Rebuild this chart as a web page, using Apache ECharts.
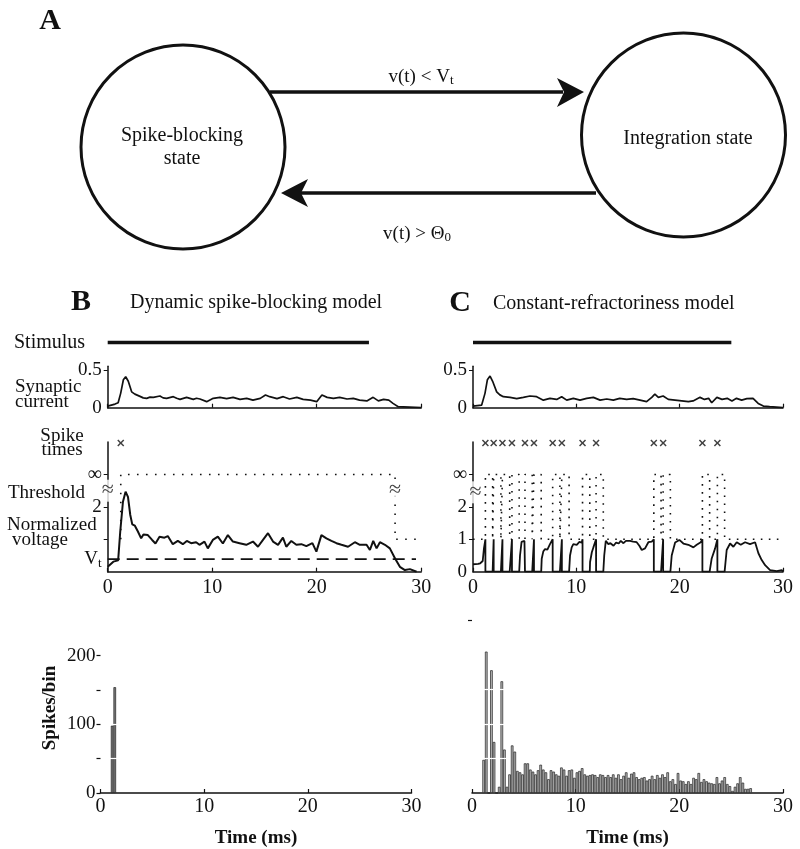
<!DOCTYPE html>
<html><head><meta charset="utf-8">
<script src="https://cdn.jsdelivr.net/npm/echarts@6/dist/echarts.min.js"></script>
<style>html,body{margin:0;padding:0;background:#fff}#c{width:800px;height:849px}</style>
</head><body><div id="c"></div>
<script>
const FONT = '"Liberation Serif","Times New Roman",serif';

// ---------------- DATA ----------------
const timeTicks = [0, 10, 20, 30];
const stimulus = [[0, 0], [25, 0]];
const synB = [[0,0.02],[0.7,0.048],[1.0,0.065],[1.24,0.19],[1.5,0.37],[1.72,0.41],[1.97,0.35],[2.29,0.21],[2.6,0.18],[3.09,0.15],[3.4,0.13],[3.73,0.124],[4.05,0.14],[4.37,0.137],[5.0,0.155],[5.3,0.13],[5.64,0.124],[6.28,0.146],[6.6,0.125],[6.92,0.11],[7.55,0.137],[8.19,0.11],[8.5,0.125],[8.83,0.115],[9.47,0.08],[10.1,0.124],[10.74,0.137],[11.38,0.12],[12.0,0.137],[12.66,0.11],[13.3,0.124],[13.9,0.1],[14.6,0.124],[15.1,0.168],[15.5,0.146],[16.2,0.12],[16.8,0.146],[17.4,0.115],[18.1,0.137],[18.7,0.11],[19.4,0.1],[20.0,0.08],[20.5,0.168],[21.0,0.137],[21.6,0.124],[22.2,0.137],[22.9,0.115],[23.5,0.124],[24.1,0.1],[24.8,0.09],[25.4,0.137],[25.9,0.09],[26.4,0.11],[26.9,0.1],[27.3,0.057],[27.8,0.013],[28.3,0.01],[30,0.0]];
const synC = [[0,0.022],[0.84,0.035],[1.16,0.19],[1.39,0.37],[1.65,0.42],[1.9,0.35],[2.29,0.21],[2.6,0.17],[2.94,0.146],[3.58,0.137],[4.23,0.12],[4.87,0.137],[5.52,0.155],[6.16,0.146],[6.81,0.1],[7.45,0.124],[8.1,0.11],[8.58,0.146],[9.07,0.1],[9.71,0.124],[10.36,0.1],[11.0,0.124],[11.65,0.137],[12.3,0.1],[12.94,0.115],[13.58,0.1],[14.2,0.124],[14.87,0.11],[15.5,0.12],[16.16,0.1],[16.8,0.08],[17.3,0.137],[17.6,0.18],[17.94,0.137],[18.4,0.155],[18.9,0.11],[19.55,0.1],[20.2,0.09],[20.84,0.08],[21.3,0.09],[21.97,0.137],[22.4,0.11],[22.8,0.124],[23.1,0.066],[23.6,0.137],[24.1,0.11],[24.6,0.124],[25.06,0.09],[25.5,0.124],[26.0,0.1],[26.5,0.12],[27.1,0.124],[27.6,0.057],[28.1,0.022],[28.7,0.013],[30,0.0]];
const voltB = [[0,0.15],[0.54,0.31],[1.0,0.35],[1.2,1.24],[1.46,2.16],[1.71,2.47],[1.94,2.31],[2.16,1.75],[2.35,1.46],[2.6,1.42],[2.89,1.24],[3.2,1.03],[3.42,1.15],[3.84,1.13],[4.25,0.98],[4.57,0.87],[4.96,1.08],[5.43,1.05],[5.75,1.1],[6.23,0.85],[6.71,0.95],[7.19,0.85],[7.57,0.95],[7.98,0.88],[8.46,0.91],[8.78,0.83],[9.26,0.93],[9.58,0.72],[10.06,0.98],[10.54,1.08],[11.02,0.87],[11.5,1.13],[11.98,0.93],[12.62,0.88],[13.26,0.83],[13.9,0.93],[14.38,0.77],[14.86,0.98],[15.34,1.19],[15.82,0.93],[16.3,0.83],[16.77,1.05],[17.09,0.77],[17.57,0.95],[18.05,0.83],[18.53,0.85],[19.01,0.79],[19.59,0.88],[19.97,0.62],[20.45,1.13],[20.93,1.03],[21.41,0.95],[21.89,0.88],[22.37,0.83],[23.0,0.77],[23.65,0.91],[24.13,0.83],[24.77,0.83],[25.09,0.67],[25.41,0.95],[25.73,0.72],[26.05,0.91],[26.53,0.83],[27.0,0.72],[27.5,0.41],[27.96,0.15],[28.44,0.05],[28.92,0.08],[29.56,0.0]];
const voltC = [[0,0.23],[0.5,0.24],[0.7,0.26],[0.94,0.33],[1.06,0.72],[1.2,1.0],[1.2,0],[1.9,0],[2.0,1.0],[2.0,0],[2.7,0],[2.85,1.0],[2.85,0],[3.55,0],[3.77,1.0],[3.77,0],[4.47,0],[4.55,0.5],[4.7,0.92],[4.87,0.97],[4.98,0.95],[5.03,1.0],[5.03,0],[5.73,0],[5.9,1.0],[5.9,0],[6.6,0],[6.65,0.4],[6.8,0.62],[6.97,0.7],[7.2,0.68],[7.45,0.85],[7.71,1.0],[7.71,0],[8.41,0],[8.6,1.0],[8.6,0],[9.3,0],[9.39,0.5],[9.55,0.75],[9.71,0.85],[10.04,0.83],[10.3,0.92],[10.52,0.9],[10.6,1.0],[10.6,0],[11.3,0],[11.33,0.3],[11.5,0.6],[11.65,0.75],[11.91,1.0],[11.91,0],[12.61,0],[12.7,0.5],[12.85,0.95],[13.1,0.85],[13.3,0.88],[13.6,0.8],[13.85,0.9],[14.1,0.87],[14.3,0.95],[14.56,0.88],[14.8,0.95],[15.2,0.95],[15.5,0.93],[15.84,0.91],[16.1,0.8],[16.33,0.67],[16.65,0.72],[16.97,0.91],[17.3,0.93],[17.5,1.0],[17.5,0],[18.2,0],[18.4,1.0],[18.4,0],[19.1,0],[19.23,0.5],[19.56,0.9],[19.97,0.98],[20.36,0.87],[20.84,0.83],[21.33,0.75],[21.65,0.83],[22.04,0.91],[22.2,1.0],[22.2,0],[22.9,0],[23.1,0.41],[23.43,0.72],[23.65,1.0],[23.65,0],[24.35,0],[24.55,0.67],[24.88,0.87],[25.2,0.77],[25.52,0.91],[25.91,0.83],[26.33,0.91],[26.81,0.85],[27.3,0.91],[27.62,0.57],[27.94,0.36],[28.27,0.2],[28.75,0.05],[29.4,0.02],[29.88,0.05],[30,0]];
const spikesB = [1.25];
const spikesC = [1.2, 2.0, 2.85, 3.77, 5.03, 5.9, 7.71, 8.6, 10.6, 11.91, 17.5, 18.4, 22.2, 23.65];
const threshB = [[1.25,1],[1.25,3],[27.5,3],[27.5,1],[29.6,1]];
const refractoryC = 0.7;
const vThreshold = 0.39;
const spikeRow = 3.97;
const infLevel = 3;
const breakLevelB = [[0,2.5],[27.5,2.5]];
const breakLevelC = [[0.25,2.45]];
const binWidth = 0.25;
const histBStart = 1.0;
const histBCounts = [98, 154];
const histCStart = 1.0;
const histCCounts = [48,205,0,178,74,0,9,162,63,9,27,69,60,32,30,27,43,43,34,31,27,33,41,34,30,20,33,31,27,25,37,34,25,33,34,22,30,32,36,27,25,26,27,26,23,27,26,23,26,23,27,22,27,20,25,30,22,28,30,23,20,22,23,18,20,25,20,26,22,27,23,30,17,20,13,29,18,17,13,17,13,22,20,29,16,20,17,15,14,13,23,14,18,23,13,10,3,9,14,23,15,6,6,7];
const synTickLabels = [0, 0.5];
const histBTicks = [0, 50, 100, 150, 200];
const histBLabels = [0, 100, 200];

// ---------------- BUILD ----------------
const threshC = [[0,1]];
spikesC.forEach(s => { threshC.push([s,1],[s,infLevel],[s+refractoryC,infLevel],[s+refractoryC,1]); });
threshC.push([30,1]);
const toBars = (start, counts) => counts.map((c,i) => [start + binWidth*(i+0.5), c]);

const grids = [
  {left:107.7, top:337.5, width:313.5, height:10},   //0 stim B
  {left:107.7, top:366.2, width:313.5, height:41.5}, //1 syn B
  {left:107.7, top:442.1, width:313.5, height:129.6},//2 volt B
  {left:100.5, top:648.7, width:311, height:147},    //3 hist B
  {left:473, top:337.5, width:310, height:10},       //4 stim C
  {left:473, top:366.2, width:310, height:41.5},     //5 syn C
  {left:473, top:442.1, width:310, height:129.6},    //6 volt C
  {left:472, top:613.7, width:311, height:182}       //7 hist C
];
const axLine = {show:true, lineStyle:{color:'#111', width:1.5}};
function xAx(i, labels, name) {
  return {gridIndex:i, type:'value', min:timeTicks[0], max:timeTicks[timeTicks.length-1], interval:10,
    show: true, splitLine:{show:false},
    axisLine: (i===0||i===4)?{show:false}:axLine,
    axisTick:{show:!(i===0||i===4), inside:true, length:4, lineStyle:{color:'#111', width:1.2}},
    axisLabel:{show:!!labels, fontFamily:FONT, fontSize:20, color:'#111', margin:labels==='h'?4:6},
    name: name||'', nameLocation:'middle', nameGap:36,
    nameTextStyle:{fontFamily:FONT, fontSize:19, fontWeight:'bold', color:'#111'}};
}
const xAxes = [xAx(0,false), xAx(1,false), xAx(2,true), xAx(3,'h','Time (ms)'),
               xAx(4,false), xAx(5,false), xAx(6,true), xAx(7,'h','Time (ms)')];

const yStim = i => ({gridIndex:i, type:'value', min:-1, max:1, show:false});
const ySyn = i => ({gridIndex:i, type:'value', min:0, max:0.55, splitLine:{show:false}, axisLine:axLine,
  axisTick:{show:true, customValues:[0.5], length:4, lineStyle:{color:'#111'}},
  axisLabel:{customValues:synTickLabels, formatter:v=>String(v), fontFamily:FONT, fontSize:19, color:'#111', margin:6}});
const yVolt = (i, labelVals) => ({gridIndex:i, type:'value', min:0, max:4, splitLine:{show:false}, axisLine:axLine,
  axisTick:{show:true, customValues:[1,2,3], length:4, lineStyle:{color:'#111'}},
  axisLabel:{customValues:labelVals, fontFamily:FONT, fontSize:19, color:'#111', margin:6,
    formatter:v => v===infLevel ? '{i|∞}' : (Math.abs(v-vThreshold)<1e-6 ? '{v|V}{s|t}' : String(v)),
    rich:{i:{fontSize:20, fontFamily:FONT}, v:{fontSize:19, fontFamily:FONT}, s:{fontSize:13, fontFamily:FONT, padding:[9,0,0,0]}}}});
const yAxes = [
  yStim(0), ySyn(1), yVolt(2,[0,vThreshold,2,infLevel]),
  {gridIndex:3, type:'value', min:0, max:210, splitLine:{show:false}, axisLine:{show:false},
   axisTick:{show:true, customValues:histBTicks, length:4, lineStyle:{color:'#111', width:1.2}},
   axisLabel:{customValues:histBLabels, fontFamily:FONT, fontSize:19, color:'#111', margin:5}},
  yStim(4), ySyn(5), yVolt(6,[0,1,2,infLevel]),
  {gridIndex:7, type:'value', min:0, max:260, splitLine:{show:false}, axisLine:{show:false},
   axisTick:{show:true, customValues:[250], length:4, lineStyle:{color:'#111', width:1.2}},
   axisLabel:{show:false}}
];

const XPATH = 'path://M0,1.5L1.5,0L5,3.5L8.5,0L10,1.5L6.5,5L10,8.5L8.5,10L5,6.5L1.5,10L0,8.5L3.5,5Z';
function line(i, data, w, type) {
  return {type:'line', xAxisIndex:i, yAxisIndex:i, data, symbol:'none', silent:true, animation:false,
    lineStyle:{color:'#111', width:w, type:type||'solid'}};
}
function breaks(i, data) {
  return {type:'scatter', xAxisIndex:i, yAxisIndex:i, data, symbolSize:1, silent:true, clip:false,
    itemStyle:{color:'rgba(0,0,0,0)'}, z:5,
    label:{show:true, position:'inside', formatter:'≈', fontFamily:FONT, fontSize:22, color:'#111',
      backgroundColor:'#fff', padding:[0,0]}};
}
function bars(i, data, fill, widthPx, whiteLines) {
  return {type:'bar', xAxisIndex:i, yAxisIndex:i, data, barWidth:widthPx, silent:true, animation:false,
    itemStyle:{color:fill, borderColor:'#222', borderWidth:0.7},
    markLine:{silent:true, symbol:'none', label:{show:false}, lineStyle:{color:'#fff', width:1.2, type:'solid'},
      data: whiteLines.map(v => [{coord:[0.5, v]}, {coord:[3.4, v]}])}};
}
const series = [
  line(0, stimulus, 3.6), line(4, stimulus, 3.6),
  line(1, synB, 1.7), line(5, synC, 1.7),
  line(2, threshB, 1.6, [1.6, 7.4]),
  line(2, [[0,vThreshold],[29.5,vThreshold]], 1.8, [12, 7]),
  line(2, voltB, 2),
  line(6, threshC, 1.6, [1.6, 6.4]),
  line(6, voltC, 1.8),
  {type:'scatter', xAxisIndex:2, yAxisIndex:2, data:spikesB.map(t=>[t,spikeRow]), symbol:XPATH, symbolSize:7, itemStyle:{color:'#111'}, silent:true},
  {type:'scatter', xAxisIndex:6, yAxisIndex:6, data:spikesC.map(t=>[t,spikeRow]), symbol:XPATH, symbolSize:7, itemStyle:{color:'#111'}, silent:true},
  breaks(2, breakLevelB), breaks(6, breakLevelC),
  bars(3, toBars(histBStart, histBCounts), '#7a7a7a', 311*binWidth/30, [50,100]),
  bars(7, toBars(histCStart, histCCounts), '#b4b4b4', 311*binWidth/30, [50,100,150])
];

const T = (text, x, y, opt) => ({type:'text', x, y, style:Object.assign({text, fontFamily:FONT, fontSize:20, fill:'#111', align:'left', verticalAlign:'middle'}, opt||{})});
const graphic = [
  // Panel A
  T('A', 50, 21, {fontSize:30, fontWeight:'bold', align:'center'}),
  {type:'circle', shape:{cx:183, cy:147, r:102}, style:{fill:'none', stroke:'#111', lineWidth:3}},
  {type:'circle', shape:{cx:683.5, cy:135, r:102}, style:{fill:'none', stroke:'#111', lineWidth:3}},
  {type:'line', shape:{x1:270, y1:92, x2:563, y2:92}, style:{stroke:'#111', lineWidth:3.4}},
  {type:'polygon', shape:{points:[[584,92],[557,78],[564,92],[557,107]]}, style:{fill:'#111'}},
  {type:'line', shape:{x1:299, y1:193, x2:596, y2:193}, style:{stroke:'#111', lineWidth:3.4}},
  {type:'polygon', shape:{points:[[281,193],[308,179],[301,193],[308,207]]}, style:{fill:'#111'}},
  T('Spike-blocking', 182, 136, {align:'center'}),
  T('state', 182, 159, {align:'center'}),
  T('Integration state', 688, 139, {align:'center'}),
  T('{a|v(t) < V}{b|t}', 421, 77, {align:'center', rich:{a:{fontSize:19, fontFamily:FONT}, b:{fontSize:13, fontFamily:FONT, padding:[8,0,0,0]}}}),
  T('{a|v(t) > Θ}{b|0}', 417, 234, {align:'center', rich:{a:{fontSize:19, fontFamily:FONT}, b:{fontSize:13, fontFamily:FONT, padding:[8,0,0,0]}}}),
  // Panel B / C headers
  T('B', 81, 302, {fontSize:30, fontWeight:'bold', align:'center'}),
  T('Dynamic spike-blocking model', 130, 303),
  T('C', 460, 303, {fontSize:30, fontWeight:'bold', align:'center'}),
  T('Constant-refractoriness model', 493, 304),
  T('Stimulus', 14, 343),
  T('Synaptic', 15, 387, {fontSize:19}),
  T('current', 15, 402, {fontSize:19}),
  T('Spike', 62, 436, {fontSize:19, align:'center'}),
  T('times', 62, 450, {fontSize:19, align:'center'}),
  T('Threshold', 8, 493, {fontSize:19}),
  T('Normalized', 7, 525, {fontSize:19}),
  T('voltage', 40, 540, {fontSize:19, align:'center'}),
  {type:'text', x:50, y:708, rotation:Math.PI/2, style:{text:'Spikes/bin', fontFamily:FONT, fontSize:19, fontWeight:'bold', fill:'#111', align:'center', verticalAlign:'middle'}}
];

const chart = echarts.init(document.getElementById('c'), null, {renderer:'canvas'});
chart.setOption({animation:false, backgroundColor:'#fff', grid:grids, xAxis:xAxes, yAxis:yAxes, series, graphic});
</script></body></html>
